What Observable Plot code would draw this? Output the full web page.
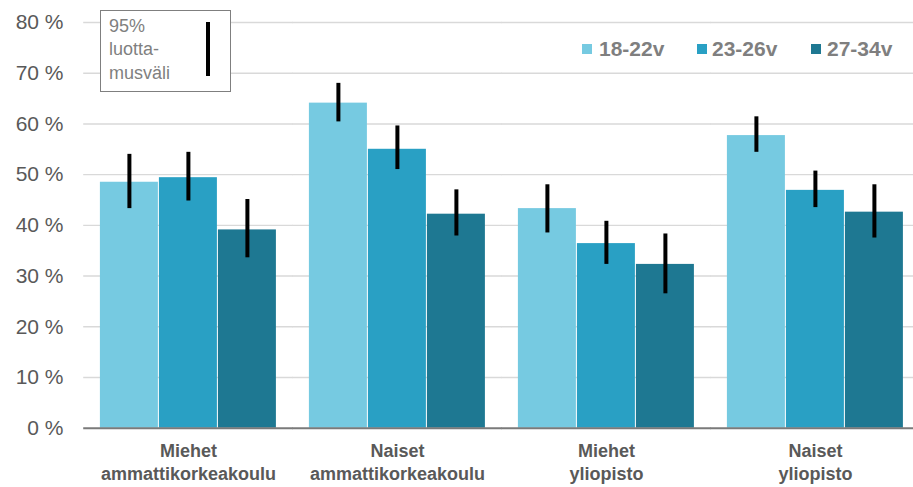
<!DOCTYPE html>
<html>
<head>
<meta charset="utf-8">
<script src="https://cdn.jsdelivr.net/npm/d3@7"></script>
<script src="https://cdn.jsdelivr.net/npm/@observablehq/plot@0.6"></script>
<style>
  html, body { margin: 0; padding: 0; background: #fff; }
  #wrap { position: relative; width: 913px; height: 487px; font-family: "Liberation Sans", Arial, sans-serif; overflow: hidden; }
  #wrap svg { position: absolute; left: 0; top: 0; }
  .leg { position: absolute; font-weight: bold; font-size: 21px; line-height: 21px; color: #7f7f7f; white-space: nowrap; }
  .sw { position: absolute; width: 10px; height: 10px; }
  #cibox { position: absolute; left: 100px; top: 10px; width: 129px; height: 80px; border: 1px solid #7f7f7f; background: #fff; }
  #citext { position: absolute; left: 8px; top: 4px; font-size: 18px; line-height: 23.3px; color: #7f7f7f; }
  #cibar { position: absolute; left: 105px; top: 11px; width: 4px; height: 54px; background: #000; }
</style>
</head>
<body>
<div id="wrap"></div>
<script>
// ---- data ----
const groups = ["Miehet amk", "Naiset amk", "Miehet yo", "Naiset yo"];
const groupLabels = ["Miehet\nammattikorkeakoulu", "Naiset\nammattikorkeakoulu", "Miehet\nyliopisto", "Naiset\nyliopisto"];
const series = ["18-22v", "23-26v", "27-34v"];
const colors = ["#76cae1", "#29a0c4", "#1e7892"];

const val1822 = [48.5, 64.1, 43.3, 57.7];
const val2326 = [49.4, 55.0, 36.4, 46.9];
const val2734 = [39.1, 42.2, 32.3, 42.6];

const lo1822 = [43.3, 60.4, 38.5, 54.4];
const hi1822 = [54.0, 68.0, 48.0, 61.4];
const lo2326 = [44.8, 51.0, 32.3, 43.5];
const hi2326 = [54.4, 59.6, 40.8, 50.7];
const lo2734 = [33.6, 37.9, 26.5, 37.5];
const hi2734 = [45.1, 47.0, 38.3, 48.0];

const yTicks = [0, 10, 20, 30, 40, 50, 60, 70, 80];

// ---- table ----
const vals = [val1822, val2326, val2734];
const los = [lo1822, lo2326, lo2734];
const his = [hi1822, hi2326, hi2734];
const data = [];
groups.forEach((g, gi) => {
  series.forEach((s, si) => {
    data.push({group: g, series: s, value: vals[si][gi], lo: los[si][gi], hi: his[si][gi]});
  });
});
const labelOf = Object.fromEntries(groups.map((g, i) => [g, groupLabels[i]]));

const halfGap = -15.8;

const chart = Plot.plot({
  width: 913,
  height: 487,
  marginLeft: 82.6,
  marginRight: 0,
  marginTop: 22,
  marginBottom: 59.3,
  style: {fontFamily: "Liberation Sans, Arial, sans-serif", color: "#595959", background: "transparent", overflow: "visible"},
  fx: {domain: groups, range: [82.6, 919.7], paddingInner: 0.147, paddingOuter: 0.0735, label: null},
  x: {domain: series, padding: 0, axis: null},
  y: {domain: [0, 80], label: null},
  color: {domain: series, range: colors},
  marks: [
    Plot.ruleY(yTicks.filter(d => d > 0), {stroke: "#d9d9d9", strokeWidth: 1.4, insetLeft: halfGap, insetRight: halfGap}),
    Plot.barY(data, {fx: "group", x: "series", y: "value", fill: "series", insetLeft: 0.5, insetRight: 0.5}),
    Plot.ruleX(data, {fx: "group", x: "series", y1: "lo", y2: "hi", stroke: "#000", strokeWidth: 4}),
    Plot.ruleY([0], {stroke: "#7a7a7a", strokeWidth: 2, insetLeft: halfGap, insetRight: halfGap}),
    Plot.axisY({ticks: yTicks, tickSize: 0, tickPadding: 36, fontSize: 21, tickFormat: d => d + " %", fill: "#595959"}),
    Plot.axisFx({anchor: "bottom", tickSize: 0, tickPadding: 12, fontSize: 18, fontWeight: "bold", lineHeight: 1.28, tickFormat: d => labelOf[d], fill: "#595959", label: null})
  ]
});

const wrap = document.getElementById("wrap");
wrap.appendChild(chart);

// legend (series)
const legPos = [[582, 599], [697, 712], [811, 827]];
series.forEach((s, i) => {
  const sw = document.createElement("div");
  sw.className = "sw";
  sw.style.left = legPos[i][0] + "px";
  sw.style.top = "44px";
  sw.style.background = colors[i];
  wrap.appendChild(sw);
  const t = document.createElement("div");
  t.className = "leg";
  t.style.left = legPos[i][1] + "px";
  t.style.top = "38px";
  t.textContent = s;
  wrap.appendChild(t);
});

// confidence interval legend box
const box = document.createElement("div");
box.id = "cibox";
box.innerHTML = '<div id="citext">95%<br>luotta-<br>musväli</div><div id="cibar"></div>';
wrap.appendChild(box);
</script>
</body>
</html>
